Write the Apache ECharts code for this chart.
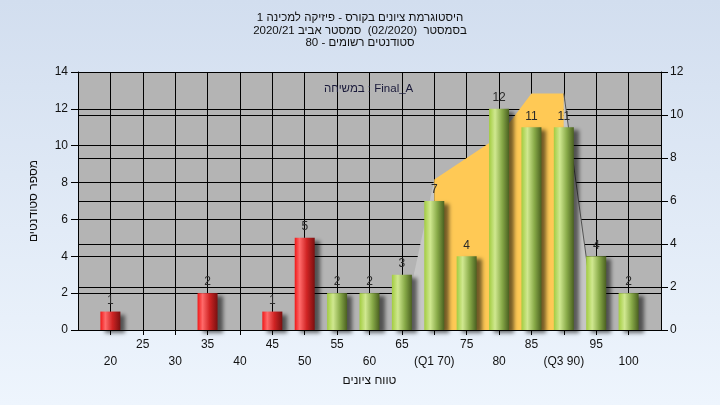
<!DOCTYPE html>
<html>
<head>
<meta charset="utf-8">
<script src="https://cdn.jsdelivr.net/npm/echarts@6/dist/echarts.min.js"></script>
<style>
html,body{margin:0;padding:0;width:720px;height:405px;overflow:hidden;}
#c{width:720px;height:405px;}
</style>
</head>
<body>
<div id="c"></div>
<script>
// ---- data ----
const titleLines = [
  "היסטוגרמת ציונים בקורס - פיזיקה למכינה 1",
  "בסמסטר  (02/2020)  סמסטר אביב 2020/21",
  "סטודנטים רשומים - 80"
];
const seriesName = "במשיחה : Final_A";
const xAxisName = "טווח ציונים";
const yAxisName = "מספר סטודנטים";

const grades = [20, 35, 45, 50, 55, 60, 65, 70, 75, 80, 85, 90, 95, 100];
const counts = [1, 2, 1, 5, 2, 2, 3, 7, 4, 12, 11, 11, 4, 2];

const tickValues = [20, 25, 30, 35, 40, 45, 50, 55, 60, 65, 70, 75, 80, 85, 90, 95, 100];
const tickLabels = ["20", "25", "30", "35", "40", "45", "50", "55", "60", "65", "(Q1 70)", "75", "80", "85", "(Q3 90)", "95", "100"];

const leftTailX = [65, 70];
const leftTailY = [0, 7];
const boxX = [70, 75, 80, 85, 90];
const boxY = [7, 8, 9, 11, 11];
const rightTailX = [90, 95];
const rightTailY = [11, 0];

// ---- build ----
const FONT = "'Liberation Sans', Arial, 'DejaVu Sans', sans-serif";
const G = echarts.graphic;
const redGrad = new G.LinearGradient(0, 0, 1, 0, [
  {offset: 0, color: '#f01818'}, {offset: 0.25, color: '#ff6a6a'},
  {offset: 0.6, color: '#d02424'}, {offset: 1, color: '#7a1010'}]);
const greenGrad = new G.LinearGradient(0, 0, 1, 0, [
  {offset: 0, color: '#a2cc40'}, {offset: 0.3, color: '#d0e890'},
  {offset: 0.65, color: '#88aa48'}, {offset: 1, color: '#4a6020'}]);

const barData = grades.map((g, i) => ({
  value: [g, counts[i]],
  itemStyle: {color: g <= 50 ? redGrad : greenGrad}
}));
const zip = (xs, ys) => xs.map((x, i) => [x, ys[i]]);

const labelOf = v => {
  const i = tickValues.indexOf(v);
  if (i < 0) return '';
  const even = (v % 10 === 0);
  return even ? '\n' + tickLabels[i] : tickLabels[i];
};

const chart = echarts.init(document.getElementById('c'), null, {renderer: 'canvas'});
chart.setOption({
  animation: false,
  backgroundColor: new G.LinearGradient(0, 0, 0, 1, [
    {offset: 0, color: '#d2deef'}, {offset: 1, color: '#eef5fd'}]),
  textStyle: {fontFamily: FONT},
  title: {
    text: titleLines.join('\n'),
    left: 'center', top: 7,
    textStyle: {fontSize: 11.5, fontWeight: 'normal', color: '#111', lineHeight: 12.5, fontFamily: FONT}
  },
  legend: {
    show: true, top: 78, left: 314,
    itemWidth: 0, itemHeight: 0, itemGap: 0,
    data: [{name: seriesName, icon: 'none'}],
    textStyle: {fontSize: 11.5, color: '#1a1a3a', fontFamily: FONT}
  },
  grid: {left: 78, right: 59, top: 72, bottom: 75, show: true, backgroundColor: '#b4b4b4', borderWidth: 0},
  xAxis: {
    type: 'value', min: 15, max: 105, interval: 5,
    name: xAxisName, nameLocation: 'middle', nameGap: 44,
    nameTextStyle: {fontSize: 12, color: '#111', fontFamily: FONT},
    axisLine: {show: true, onZero: false, lineStyle: {color: '#000', width: 1}},
    axisTick: {show: true, length: 5, lineStyle: {color: '#000'}},
    splitLine: {show: true, lineStyle: {color: '#000', width: 1}},
    axisLabel: {
      fontSize: 12, color: '#111', lineHeight: 17, margin: 6,
      showMinLabel: false, showMaxLabel: false,
      formatter: labelOf
    }
  },
  yAxis: [{
    type: 'value', min: 0, max: 14, interval: 2, position: 'left',
    name: yAxisName, nameLocation: 'middle', nameGap: 38, nameRotate: 90,
    nameTextStyle: {fontSize: 12, color: '#111', fontFamily: FONT},
    axisLine: {show: true, lineStyle: {color: '#000'}},
    axisTick: {show: true, length: 7, lineStyle: {color: '#000'}},
    splitLine: {show: true, lineStyle: {color: '#000', width: 1}},
    axisLabel: {fontSize: 12, color: '#111', margin: 10}
  }, {
    type: 'value', min: 0, max: 12, interval: 2, position: 'right',
    axisLine: {show: true, lineStyle: {color: '#000'}},
    axisTick: {show: true, length: 7, lineStyle: {color: '#000'}},
    splitLine: {show: true, lineStyle: {color: '#000', width: 1}},
    axisLabel: {fontSize: 12, color: '#111', margin: 9}
  }],
  series: [{
    type: 'line', yAxisIndex: 1, data: zip(leftTailX, leftTailY), z: 1,
    symbol: 'none', lineStyle: {width: 0}, areaStyle: {color: '#c6c6c6', opacity: 1},
    silent: true
  }, {
    type: 'line', yAxisIndex: 1, data: zip(boxX, boxY), z: 1,
    symbol: 'none', lineStyle: {width: 0}, areaStyle: {color: '#ffc955', opacity: 1},
    silent: true
  }, {
    type: 'line', yAxisIndex: 1, data: zip(rightTailX, rightTailY), z: 1,
    symbol: 'none', lineStyle: {width: 1, color: '#555'}, areaStyle: {color: '#c6c6c6', opacity: 1},
    silent: true
  }, {
    name: seriesName, type: 'bar', yAxisIndex: 0, barWidth: 20, z: 3,
    data: barData,
    itemStyle: {shadowColor: 'rgba(0,0,0,0.55)', shadowBlur: 4, shadowOffsetX: 5, shadowOffsetY: 3},
    label: {show: true, position: 'top', distance: 5, fontSize: 12, color: '#2a2a2a', fontFamily: FONT}
  }]
});
</script>
</body>
</html>
